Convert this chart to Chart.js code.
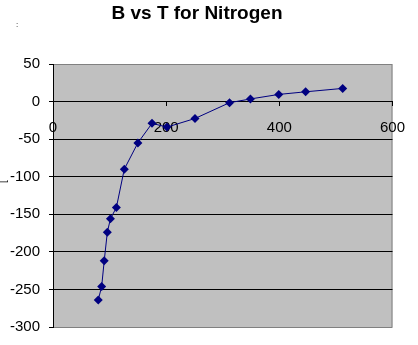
<!DOCTYPE html>
<html>
<head>
<meta charset="utf-8">
<script src="https://cdn.jsdelivr.net/npm/chart.js@4/dist/chart.umd.min.js"></script>
<style>
  html, body { margin: 0; padding: 0; background: #fff; }
  #wrap { width: 418px; height: 345px; }
</style>
</head>
<body>
<div id="wrap"><canvas id="bvsT"></canvas></div>
<script>
// temperature (K) and second virial coefficient B for nitrogen
const temps = [80, 86, 90.5, 96, 101.5, 112, 126, 150, 175, 201.5, 251, 312, 349, 399, 446.5, 512];
const bValues = [-264, -246, -212, -174, -156, -141, -90, -55, -29, -34, -22.5, -1.5, 3.5, 9.5, 13, 17.5];
const xTicks = [0, 200, 400, 600];
const yTicks = [50, 0, -50, -100, -150, -200, -250, -300];

const points = temps.map((t, i) => ({ x: t, y: bValues[i] }));

// gray plot area with a thin darker frame, like the old spreadsheet look
const plotArea = {
  id: "plotArea",
  beforeDraw(chart) {
    const { ctx, chartArea: a } = chart;
    ctx.save();
    ctx.fillStyle = "#c0c0c0";
    ctx.fillRect(a.left, a.top, a.right - a.left, a.bottom - a.top);
    ctx.strokeStyle = "#808080";
    ctx.lineWidth = 1;
    ctx.strokeRect(a.left + 0.5, a.top + 0.5, a.right - a.left - 1, a.bottom - a.top);
    ctx.restore();
  },
  afterDraw(chart) {
    const ctx = chart.ctx;
    ctx.save();
    ctx.fillStyle = "#000";
    ctx.font = "8px 'Liberation Sans', Arial, sans-serif";
    ctx.fillText(":", 16, 27);
    ctx.translate(6, 183);
    ctx.rotate(-Math.PI / 2);
    ctx.font = "10px 'Liberation Sans', Arial, sans-serif";
    ctx.fillText("[", 0, 0);
    ctx.restore();
  }
};

const tickFont = { family: "'Liberation Sans', Arial, sans-serif", size: 15 };

new Chart(document.getElementById("bvsT"), {
  type: "scatter",
  data: {
    datasets: [{
      label: "B",
      data: points,
      showLine: true,
      borderColor: "#000080",
      borderWidth: 1,
      backgroundColor: "#000080",
      pointStyle: "rectRot",
      pointRadius: 4.5,
      pointBorderWidth: 0,
      pointBackgroundColor: "#000080",
      tension: 0
    }]
  },
  options: {
    responsive: true,
    maintainAspectRatio: false,
    animation: false,
    layout: { padding: { left: 0, right: 24, bottom: 15, top: 0 } },
    plugins: {
      legend: { display: false },
      tooltip: { enabled: false },
      title: {
        display: true,
        text: "B vs T for Nitrogen",
        color: "#000",
        font: { family: "'Liberation Sans', Arial, sans-serif", size: 19, weight: "bold" },
        padding: { top: 2, bottom: 39.2 }
      }
    },
    scales: {
      x: {
        type: "linear",
        position: { y: 0 },
        min: 0,
        max: 600,
        afterFit(scale) { scale.height = 0; },
        afterBuildTicks(scale) { scale.ticks = xTicks.map(v => ({ value: v })); },
        ticks: { color: "#000", font: tickFont, padding: 13, maxRotation: 0 },
        grid: { drawOnChartArea: false, drawTicks: true, tickLength: 4, tickColor: "#000" },
        border: { display: true, color: "#000", width: 1 }
      },
      y: {
        type: "linear",
        min: -300,
        max: 50,
        afterFit(scale) { scale.width = 53; },
        afterBuildTicks(scale) { scale.ticks = yTicks.map(v => ({ value: v })); },
        ticks: { color: "#000", font: tickFont, padding: 9 },
        grid: {
          drawTicks: true,
          tickLength: 4,
          tickColor: "#000",
          color: ctx => (ctx.tick && (ctx.tick.value === 50 || ctx.tick.value === -300)) ? "rgba(0,0,0,0)" : "#000"
        },
        border: { display: true, color: "#000", width: 1 }
      }
    }
  },
  plugins: [plotArea]
});
</script>
</body>
</html>
